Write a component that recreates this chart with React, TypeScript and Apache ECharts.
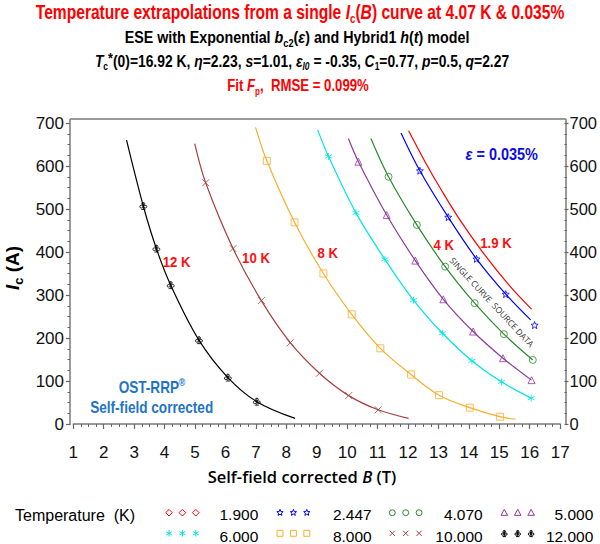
import React, { useEffect, useRef } from "react";
import * as echarts from "echarts";

// ---------- data ----------
const temperatureLabels = ["1.900", "2.447", "4.070", "5.000", "6.000", "8.000", "10.000", "12.000"];
const seriesColors = ["#ff0000", "#0000ff", "#2a8a2a", "#8e3a9c", "#00e4e4", "#f9ae2c", "#a8403f", "#000000"];
const seriesSymbols = ["diamond", "star", "circle", "triangle", "asterisk", "square", "cross", "club"];

const curve1900 = [[12.02, 682], [12.59, 606], [13.13, 540], [13.71, 474], [14.44, 401], [15.32, 323], [16.06, 267]];
const curve2447 = [[11.77, 677], [12.39, 589], [13.32, 481], [14.25, 384], [15.21, 302], [16.03, 242]];
const curve4070 = [[10.78, 664], [11.36, 575], [12.29, 463], [13.22, 366], [14.19, 281], [15.15, 209], [16.1, 149]];
const curve5000 = [[10.04, 664], [10.37, 610], [11.3, 486], [12.24, 380], [13.16, 290], [14.14, 215], [15.12, 153], [16.06, 102]];
const curve6000 = [[9.03, 684], [9.39, 622], [10.29, 491], [11.24, 383], [12.18, 288], [13.13, 211], [14.1, 147], [15.07, 98], [16.05, 60]];
const curve8000 = [[6.99, 690], [7.36, 612], [8.27, 469], [9.22, 350], [10.15, 255], [11.09, 176], [12.1, 115], [13.02, 67], [14.03, 38], [15.02, 17], [15.54, 11]];
const curve10000 = [[4.99, 652], [5.35, 561], [6.25, 408], [7.18, 287], [8.13, 189], [9.09, 118], [10.05, 66], [11.02, 33], [12.02, 13]];
const curve12000 = [[2.75, 660], [3.3, 507], [3.73, 408], [4.2, 323], [5.13, 195], [6.08, 108], [7.03, 52], [8.29, 13]];

const marks1900: number[][] = [];
const marks2447 = [[12.39, 589], [13.32, 481], [14.25, 384], [15.21, 302], [16.16, 230]];
const marks4070 = [[11.36, 575], [12.29, 463], [13.22, 366], [14.19, 281], [15.15, 209], [16.1, 149]];
const marks5000 = [[10.37, 610], [11.3, 486], [12.24, 380], [13.16, 290], [14.14, 215], [15.12, 153], [16.06, 102]];
const marks6000 = [[9.39, 622], [10.29, 491], [11.24, 383], [12.18, 288], [13.13, 211], [14.1, 147], [15.07, 98], [16.05, 60]];
const marks8000 = [[7.36, 612], [8.27, 469], [9.22, 350], [10.15, 255], [11.09, 176], [12.1, 115], [13.02, 67], [14.03, 38], [15.02, 17]];
const marks10000 = [[5.35, 561], [6.25, 408], [7.18, 287], [8.13, 189], [9.09, 118], [10.05, 66], [11.02, 33]];
const marks12000 = [[3.3, 507], [3.73, 408], [4.2, 323], [5.13, 195], [6.08, 108], [7.03, 52]];

const curves = [curve1900, curve2447, curve4070, curve5000, curve6000, curve8000, curve10000, curve12000];
const marks = [marks1900, marks2447, marks4070, marks5000, marks6000, marks8000, marks10000, marks12000];

const xMin = 1, xMax = 17, xStep = 1;
const yMin = 0, yMax = 700, yStep = 100;

const curveLabels = ["12 K", "10 K", "8 K", "4 K", "1.9 K"];

// ---------- symbol shapes ----------
const symbolPaths: Record<string, string> = {
  diamond: "M0 -5 L5 0 L0 5 L-5 0 Z",
  star: "M0 -5 L1.29 -1.78 L4.76 -1.55 L2.09 0.68 L2.94 4.05 L0 2.2 L-2.94 4.05 L-2.09 0.68 L-4.76 -1.55 L-1.29 -1.78 Z",
  circle: "M-4.5 0 A4.5 4.5 0 1 1 4.5 0 A4.5 4.5 0 1 1 -4.5 0 Z",
  triangle: "M0 -5 L5 4 L-5 4 Z",
  asterisk: "M0 -5 L0 5 M-4.33 -2.5 L4.33 2.5 M-4.33 2.5 L4.33 -2.5",
  square: "M-4.5 -4.5 L4.5 -4.5 L4.5 4.5 L-4.5 4.5 Z",
  cross: "M-4 -4 L4 4 M4 -4 L-4 4",
  club: "M1.8 -2.6 A1.8 1.8 0 1 1 -1.8 -2.6 A1.8 1.8 0 1 1 1.8 -2.6 Z M-0.6 1.2 A1.8 1.8 0 1 1 -4.2 1.2 A1.8 1.8 0 1 1 -0.6 1.2 Z M4.2 1.2 A1.8 1.8 0 1 1 0.6 1.2 A1.8 1.8 0 1 1 4.2 1.2 Z M0 -4.4 L0 5 M-2.5 5 L2.5 5",
};

const FONT = "Liberation Sans";

function richTok(size: number, color: string, extra: any = {}) {
  return { fontSize: size, fontFamily: FONT, fontWeight: "bold", fill: color, color, ...extra };
}

function titleText(x: number, y: number, text: string, size: number, color: string, scaleX: number) {
  return {
    type: "text",
    x,
    y,
    scaleX,
    style: {
      text,
      fontSize: size,
      fontFamily: FONT,
      fontWeight: "bold",
      fill: color,
      lineHeight: size + 6,
      align: "center",
      textAlign: "center",
      verticalAlign: "middle",
      textVerticalAlign: "middle",
      rich: {
        n: richTok(size, color, { lineHeight: size + 6 }),
        i: richTok(size, color, { fontStyle: "italic", lineHeight: size + 6 }),
        sub: richTok(Math.round(size * 0.62), color, { lineHeight: Math.round(size * 0.5), verticalAlign: "bottom" }),
        subi: richTok(Math.round(size * 0.62), color, { fontStyle: "italic", lineHeight: Math.round(size * 0.5), verticalAlign: "bottom" }),
        sup: richTok(Math.round(size * 0.9), color, { lineHeight: Math.round(size * 0.9), verticalAlign: "top" }),
      },
    },
  };
}

export default function App() {
  const ref = useRef<HTMLDivElement>(null);
  useEffect(() => {
    if (!ref.current) return;
    Object.keys(symbolPaths).forEach((k) => {
      echarts.graphic.registerShape("sym_" + k, echarts.graphic.extendPath(symbolPaths[k], {}) as any);
    });
    const chart = echarts.init(ref.current, undefined, { renderer: "svg" });

    const series: any[] = [];
    temperatureLabels.forEach((t, i) => {
      series.push({
        type: "line",
        name: t + " curve",
        data: curves[i],
        smooth: 0.35,
        showSymbol: false,
        silent: true,
        lineStyle: { color: seriesColors[i], width: 1.2 },
        z: 2,
      });
      series.push({
        type: "scatter",
        name: t,
        data: marks[i],
        symbol: "path://" + symbolPaths[seriesSymbols[i]],
        symbolSize: 7,
        silent: true,
        itemStyle: { color: "rgba(0,0,0,0)", borderColor: seriesColors[i], borderWidth: 1 },
        z: 3,
      });
    });

    const frameColor = "#7a7a7a";
    const graphics: any[] = [
      { type: "line", shape: { x1: 70, y1: 119, x2: 566, y2: 119 }, style: { stroke: frameColor, lineWidth: 1.5 } },
      { type: "line", shape: { x1: 70, y1: 119, x2: 70, y2: 425 }, style: { stroke: frameColor, lineWidth: 1.5 } },
      { type: "line", shape: { x1: 566, y1: 119, x2: 566, y2: 425 }, style: { stroke: frameColor, lineWidth: 1.5 } },
      titleText(300, 12, "Temperature extrapolations from a single {i|I}{sub|c}({i|B}) curve at 4.07 K & 0.035%", 19.5, "#ff0000", 0.8),
      titleText(297, 37, "ESE with Exponential {i|b}{sub|c2}({i|ε}) and Hybrid1 {i|h}({i|t}) model", 17, "#000000", 0.84),
      titleText(302, 61, "{i|T}{sub|c}{sup|*}(0)=16.92 K, {i|η}=2.23, {i|s}=1.01, {i|ε}{subi|l0} = -0.35, {i|C}{sub|1}=0.77, {i|p}=0.5, {i|q}=2.27", 16.5, "#000000", 0.84),
      titleText(298, 85, "Fit {i|F}{sub|p},  RMSE = 0.099%", 16.5, "#ff0000", 0.8),
      // y axis title
      {
        type: "text",
        x: 12,
        y: 268,
        rotation: Math.PI / 2,
        style: {
          text: "{i|I}{sub|c}{n| (A)}",
          align: "center",
          textAlign: "center",
          verticalAlign: "middle",
          textVerticalAlign: "middle",
          fontSize: 19,
          fontFamily: FONT,
          fontWeight: "bold",
          fill: "#000",
          rich: {
            n: richTok(19, "#000", { lineHeight: 26 }),
            i: richTok(19, "#000", { fontStyle: "italic", lineHeight: 26 }),
            sub: richTok(13, "#000", { lineHeight: 10, verticalAlign: "bottom" }),
          },
        },
      },
      // x axis title
      {
        type: "text",
        x: 302,
        y: 476,
        style: {
          text: "Self-field corrected {i|B} (T)",
          align: "center",
          textAlign: "center",
          verticalAlign: "middle",
          textVerticalAlign: "middle",
          fontSize: 16.5,
          fontFamily: "Open Sans",
          fontWeight: 600,
          fill: "#000",
          rich: {
            i: { fontSize: 16.5, fontFamily: "Open Sans", fontWeight: 600, fontStyle: "italic", fill: "#000" },
          },
        },
      },
    ];

    // curve labels
    const labelPos = [[176.7, 262], [256, 258], [327.7, 253], [443.7, 245], [496, 242.5]];
    curveLabels.forEach((lab, i) => {
      graphics.push({
        type: "text",
        x: labelPos[i][0],
        y: labelPos[i][1],
        scaleX: 0.85,
        style: {
          text: lab,
          fontSize: 15.5,
          fontFamily: FONT,
          fontWeight: "bold",
          fill: "#ff1010",
          align: "center",
          textAlign: "center",
          verticalAlign: "middle",
          textVerticalAlign: "middle",
        },
      });
    });

    graphics.push(
      {
        type: "text",
        x: 501.7,
        y: 154,
        scaleX: 0.85,
        style: {
          text: "{i|ε} = 0.035%",
          fontSize: 17,
          fontFamily: FONT,
          fontWeight: "bold",
          fill: "#0a0ae6",
          align: "center",
          textAlign: "center",
          verticalAlign: "middle",
          textVerticalAlign: "middle",
          rich: { i: richTok(17, "#0a0ae6", { fontStyle: "italic" }) },
        },
      },
      {
        type: "text",
        x: 152,
        y: 388,
        scaleX: 0.85,
        style: {
          text: "OST-RRP{sup|®}",
          fontSize: 16,
          fontFamily: FONT,
          fontWeight: "bold",
          fill: "#1f74c6",
          lineHeight: 20,
          align: "center",
          textAlign: "center",
          verticalAlign: "middle",
          textVerticalAlign: "middle",
          rich: { sup: richTok(10, "#1f74c6", { lineHeight: 8, verticalAlign: "top" }) },
        },
      },
      {
        type: "text",
        x: 151.7,
        y: 408,
        scaleX: 0.85,
        style: {
          text: "Self-field corrected",
          fontSize: 16,
          fontFamily: FONT,
          fontWeight: "bold",
          fill: "#1f74c6",
          align: "center",
          textAlign: "center",
          verticalAlign: "middle",
          textVerticalAlign: "middle",
        },
      },
      {
        type: "text",
        x: 492,
        y: 302,
        rotation: (-47 * Math.PI) / 180,
        style: {
          text: "SINGLE CURVE  SOURCE DATA",
          fontSize: 8.5,
          fontFamily: "Open Sans",
          fill: "#333",
          align: "center",
          textAlign: "center",
          verticalAlign: "middle",
          textVerticalAlign: "middle",
        },
      },
      {
        type: "text",
        x: 15,
        y: 515,
        style: {
          text: "Temperature  (K)",
          fontSize: 16,
          fontFamily: FONT,
          fill: "#000",
          align: "left",
          textAlign: "left",
          verticalAlign: "middle",
          textVerticalAlign: "middle",
        },
      }
    );

    // legend
    const rowMarkY = [512.7, 533.3];
    const rowTextY = [514.5, 536.5];
    const colMarkX = [169, 280, 392.3, 504.3];
    const colTextX = [258.3, 371.7, 482.7, 593.3];
    temperatureLabels.forEach((t, i) => {
      const r = i < 4 ? 0 : 1;
      const c = i % 4;
      for (let k = 0; k < 3; k++) {
        graphics.push({
          type: "sym_" + seriesSymbols[i],
          x: colMarkX[c] + k * 13.4,
          y: rowMarkY[r],
          scaleX: 0.66,
          scaleY: 0.66,
          style: { fill: "none", stroke: seriesColors[i], lineWidth: 1, strokeNoScale: true },
        });
      }
      graphics.push({
        type: "text",
        x: colTextX[c],
        y: rowTextY[r],
        style: {
          text: t,
          fontSize: 15.5,
          fontFamily: FONT,
          fill: "#000",
          align: "right",
          textAlign: "right",
          verticalAlign: "middle",
          textVerticalAlign: "middle",
        },
      });
    });

    const axisLabelStyle = { color: "#111", fontFamily: FONT, fontSize: 17 };

    chart.setOption({
      animation: false,
      backgroundColor: "#ffffff",
      textStyle: { fontFamily: FONT },
      grid: { left: 73.3, right: 38.3, top: 123, bottom: 120 },
      xAxis: {
        type: "value",
        min: xMin,
        max: xMax,
        interval: xStep,
        offset: 6,
        axisLine: { show: true, lineStyle: { color: "#7a7a7a", width: 1.5 } },
        axisTick: { show: true, length: 5, lineStyle: { color: "#666", width: 1.2 } },
        minorTick: { show: true, splitNumber: 4, length: 3, lineStyle: { color: "#666", width: 1 } },
        axisLabel: { ...axisLabelStyle, margin: 14 },
        splitLine: { show: false },
      },
      yAxis: [
        {
          type: "value",
          min: yMin,
          max: yMax,
          interval: yStep,
          position: "left",
          offset: 3.3,
          axisLine: { show: false },
          axisTick: { show: true, length: 4, lineStyle: { color: "#666", width: 1.2 } },
          minorTick: { show: true, splitNumber: 4, length: 2.5, lineStyle: { color: "#666", width: 1 } },
          axisLabel: { ...axisLabelStyle, margin: 6 },
          splitLine: { show: false },
        },
        {
          type: "value",
          min: yMin,
          max: yMax,
          interval: yStep,
          position: "right",
          offset: 4.3,
          axisLine: { show: false },
          axisTick: { show: true, length: 4, lineStyle: { color: "#666", width: 1.2 } },
          minorTick: { show: true, splitNumber: 4, length: 2.5, lineStyle: { color: "#666", width: 1 } },
          axisLabel: { ...axisLabelStyle, fontSize: 16.5, margin: 5 },
          splitLine: { show: false },
        },
      ],
      series,
      graphic: graphics,
    });
    return () => chart.dispose();
  }, []);
  return <div ref={ref} style={{ position: "fixed", left: 0, top: 0, width: 600, height: 544 }} />;
}
